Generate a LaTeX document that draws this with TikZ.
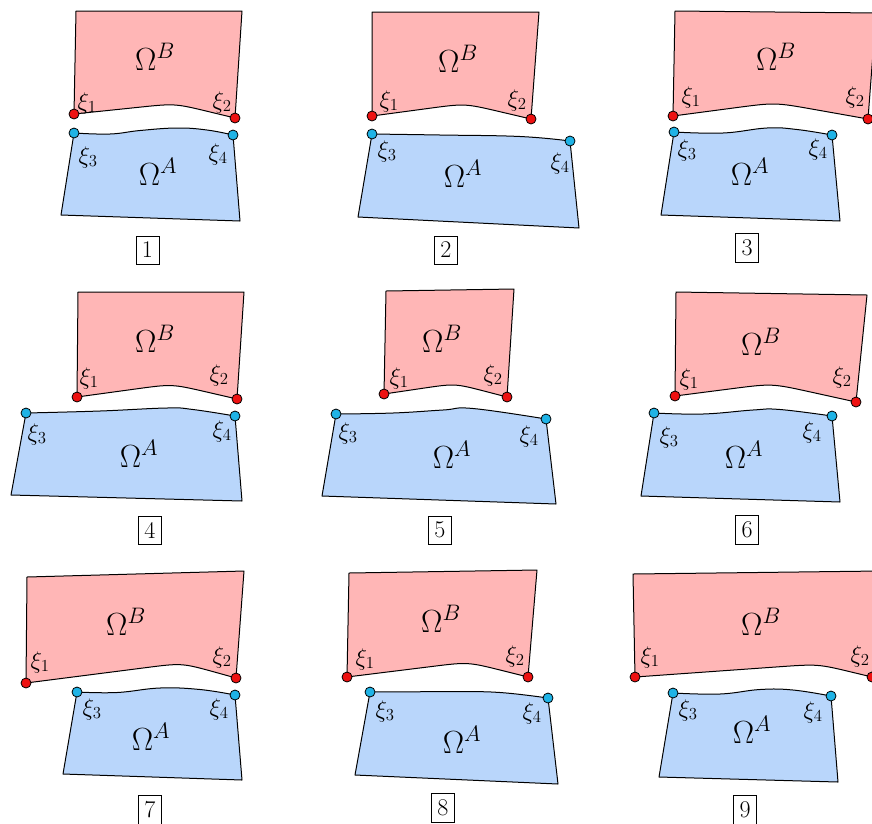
\RequirePackage{fix-cm}
\documentclass[tikz,border=0pt]{standalone}
\usepackage{amsmath}
\usetikzlibrary{positioning,calc}
\definecolor{bodyB}{HTML}{FFB6B6}
\definecolor{bodyA}{HTML}{B9D6FB}
\definecolor{ptRed}{HTML}{EE1111}
\definecolor{ptCyan}{HTML}{1FB3E6}

\begin{document}
\begin{tikzpicture}[x=1pt,y=-1pt,
    partB/.style={draw=black,fill=bodyB,line width=1pt,line join=round},
    partA/.style={draw=black,fill=bodyA,line width=1pt,line join=round},
    dotB/.style={circle,draw=black,fill=ptRed,line width=0.8pt,
                 inner sep=0pt,minimum size=10pt},
    dotA/.style={circle,draw=black,fill=ptCyan,line width=0.8pt,
                 inner sep=0pt,minimum size=10pt},
    omlab/.style={anchor=base,inner sep=0pt,font=\fontsize{32}{36}\selectfont},
    xilab/.style={inner sep=0pt,font=\fontsize{24}{28}\selectfont},
    tag/.style={draw,line width=0.8pt,inner sep=6pt,
                font=\fontsize{24}{28}\selectfont},
    curve/.style={smooth,tension=0.7},
  ]
  \useasboundingbox (0,0) rectangle (872,823);

  % --- panel 1 ---
  \coordinate (xi1) at (74,114);  \coordinate (xi2) at (235,118);
  \coordinate (xi3) at (74,133);  \coordinate (xi4) at (233,135);
  \coordinate (v) at (175,103.5);
  \draw[partB] (76,11) -- (242,11) -- (xi2) -- ($(v)!36pt!(xi2)$)
    .. controls (v) .. ($(v)!36pt!(xi1)$) -- (xi1) -- cycle;
  \draw[partA] plot[curve] coordinates
    {(xi3) (110,134) (140,130.5) (177,128) (207,130) (xi4)} -- (240,221) -- (61,215) -- cycle;
  \node[dotB] (p1a) at (xi1) {};  \node[dotB] (p1b) at (xi2) {};
  \node[dotA] (p1c) at (xi3) {};  \node[dotA] (p1d) at (xi4) {};
  \node[omlab] (om1B) at (155,70) {$\Omega^B$};
  \node[omlab] (om1A) at (158,185) {$\Omega^A$};
  \node[xilab] (l1a) at (87,103) {$\xi_1$};
  \node[xilab] (l1b) at (222,102) {$\xi_2$};
  \node[xilab] (l1c) at (88,157) {$\xi_3$};
  \node[xilab] (l1d) at (218,154) {$\xi_4$};
  \node[tag] (tag1) at (147.5,250) {1};

  % --- panel 2 ---
  \coordinate (xi1) at (372,116); \coordinate (xi2) at (531,119);
  \coordinate (xi3) at (372,134); \coordinate (xi4) at (570,141);
  \coordinate (v) at (465,103.5);
  \draw[partB] (372,12) -- (539,12) -- (xi2) -- ($(v)!36pt!(xi2)$)
    .. controls (v) .. ($(v)!36pt!(xi1)$) -- (xi1) -- cycle;
  \draw[partA] plot[curve] coordinates
    {(xi3) (440,135) (520,136.5) (xi4)} -- (579,228) -- (358,217) -- cycle;
  \node[dotB] (p2a) at (xi1) {};  \node[dotB] (p2b) at (xi2) {};
  \node[dotA] (p2c) at (xi3) {};  \node[dotA] (p2d) at (xi4) {};
  \node[omlab] (om2B) at (458,72) {$\Omega^B$};
  \node[omlab] (om2A) at (463,187) {$\Omega^A$};
  \node[xilab] (l2a) at (389,101) {$\xi_1$};
  \node[xilab] (l2b) at (517,100) {$\xi_2$};
  \node[xilab] (l2c) at (387,151) {$\xi_3$};
  \node[xilab] (l2d) at (560,163) {$\xi_4$};
  \node[tag] (tag2) at (446,250) {2};

  % --- panel 3 ---
  \coordinate (xi1) at (673,116); \coordinate (xi2) at (868,119);
  \coordinate (xi3) at (674,132); \coordinate (xi4) at (832,135);
  \coordinate (v) at (775,102.5);
  \draw[partB] (675,11) -- (876,13) -- (xi2) -- ($(v)!40pt!(xi2)$)
    .. controls (v) .. ($(v)!40pt!(xi1)$) -- (xi1) -- cycle;
  \draw[partA] plot[curve] coordinates
    {(xi3) (723,133) (767,128) (797,129.5) (xi4)} -- (840,221) -- (661,215) -- cycle;
  \node[dotB] (p3a) at (xi1) {};  \node[dotB] (p3b) at (xi2) {};
  \node[dotA] (p3c) at (xi3) {};  \node[dotA] (p3d) at (xi4) {};
  \node[omlab] (om3B) at (776,70) {$\Omega^B$};
  \node[omlab] (om3A) at (750,185) {$\Omega^A$};
  \node[xilab] (l3a) at (691,97) {$\xi_1$};
  \node[xilab] (l3b) at (855,97) {$\xi_2$};
  \node[xilab] (l3c) at (687,150) {$\xi_3$};
  \node[xilab] (l3d) at (818,149) {$\xi_4$};
  \node[tag] (tag3) at (747,248) {3};

  % --- panel 4 ---
  \coordinate (xi1) at (77,397);  \coordinate (xi2) at (237,399);
  \coordinate (xi3) at (26,413);  \coordinate (xi4) at (235,416);
  \coordinate (v) at (172,384);
  \draw[partB] (78,292) -- (244,292) -- (xi2) -- ($(v)!36pt!(xi2)$)
    .. controls (v) .. ($(v)!36pt!(xi1)$) -- (xi1) -- cycle;
  \draw[partA] plot[curve] coordinates
    {(xi3) (100,411) (167,408) (193,409.5) (xi4)} -- (242,501) -- (11,495) -- cycle;
  \node[dotB] (p4a) at (xi1) {};  \node[dotB] (p4b) at (xi2) {};
  \node[dotA] (p4c) at (xi3) {};  \node[dotA] (p4d) at (xi4) {};
  \node[omlab] (om4B) at (155,352) {$\Omega^B$};
  \node[omlab] (om4A) at (139,467) {$\Omega^A$};
  \node[xilab] (l4a) at (89,378) {$\xi_1$};
  \node[xilab] (l4b) at (219,375) {$\xi_2$};
  \node[xilab] (l4c) at (37,434) {$\xi_3$};
  \node[xilab] (l4d) at (222,431) {$\xi_4$};
  \node[tag] (tag4) at (150,530) {4};

  % --- panel 5 ---
  \coordinate (xi1) at (384,394); \coordinate (xi2) at (507,397);
  \coordinate (xi3) at (336,414); \coordinate (xi4) at (546,419);
  \coordinate (v) at (455,383.5);
  \draw[partB] (386,291) -- (514,289) -- (xi2) -- ($(v)!32pt!(xi2)$)
    .. controls (v) .. ($(v)!32pt!(xi1)$) -- (xi1) -- cycle;
  \draw[partA] plot[curve] coordinates
    {(xi3) (393,413) (443,410) (473,408.5) (xi4)} -- (556,504) -- (322,496) -- cycle;
  \node[dotB] (p5a) at (xi1) {};  \node[dotB] (p5b) at (xi2) {};
  \node[dotA] (p5c) at (xi3) {};  \node[dotA] (p5d) at (xi4) {};
  \node[omlab] (om5B) at (442,352) {$\Omega^B$};
  \node[omlab] (om5A) at (452,468) {$\Omega^A$};
  \node[xilab] (l5a) at (399,378) {$\xi_1$};
  \node[xilab] (l5b) at (493,375) {$\xi_2$};
  \node[xilab] (l5c) at (348,433) {$\xi_3$};
  \node[xilab] (l5d) at (529,436) {$\xi_4$};
  \node[tag] (tag5) at (440,530) {5};

  % --- panel 6 ---
  \coordinate (xi1) at (675,396); \coordinate (xi2) at (856,402);
  \coordinate (xi3) at (654,413); \coordinate (xi4) at (832,416);
  \coordinate (v) at (772,383.5);
  \draw[partB] (676,292) -- (867,295) -- (xi2) -- ($(v)!40pt!(xi2)$)
    .. controls (v) .. ($(v)!40pt!(xi1)$) -- (xi1) -- cycle;
  \draw[partA] plot[curve] coordinates
    {(xi3) (703,414) (753,410) (780,409.5) (xi4)} -- (840,502) -- (641,496) -- cycle;
  \node[dotB] (p6a) at (xi1) {};  \node[dotB] (p6b) at (xi2) {};
  \node[dotA] (p6c) at (xi3) {};  \node[dotA] (p6d) at (xi4) {};
  \node[omlab] (om6B) at (761,355) {$\Omega^B$};
  \node[omlab] (om6A) at (744,468) {$\Omega^A$};
  \node[xilab] (l6a) at (689,379) {$\xi_1$};
  \node[xilab] (l6b) at (842,377) {$\xi_2$};
  \node[xilab] (l6c) at (669,437) {$\xi_3$};
  \node[xilab] (l6d) at (812,432) {$\xi_4$};
  \node[tag] (tag6) at (747,530) {6};

  % --- panel 7 ---
  \coordinate (xi1) at (26,683);  \coordinate (xi2) at (236,678);
  \coordinate (xi3) at (77,692);  \coordinate (xi4) at (235,695);
  \coordinate (v) at (182,663);
  \draw[partB] (27,577) -- (244,571) -- (xi2) -- ($(v)!36pt!(xi2)$)
    .. controls (v) .. ($(v)!36pt!(xi1)$) -- (xi1) -- cycle;
  \draw[partA] plot[curve] coordinates
    {(xi3) (117,692.5) (160,688) (200,689.5) (xi4)} -- (242,780) -- (63,774) -- cycle;
  \node[dotB] (p7a) at (xi1) {};  \node[dotB] (p7b) at (xi2) {};
  \node[dotA] (p7c) at (xi3) {};  \node[dotA] (p7d) at (xi4) {};
  \node[omlab] (om7B) at (126,635) {$\Omega^B$};
  \node[omlab] (om7A) at (151,750) {$\Omega^A$};
  \node[xilab] (l7a) at (40,662) {$\xi_1$};
  \node[xilab] (l7b) at (222,657) {$\xi_2$};
  \node[xilab] (l7c) at (92,709) {$\xi_3$};
  \node[xilab] (l7d) at (219,709) {$\xi_4$};
  \node[tag] (tag7) at (150,810) {7};

  % --- panel 8 ---
  \coordinate (xi1) at (347,677); \coordinate (xi2) at (528,677);
  \coordinate (xi3) at (370,692); \coordinate (xi4) at (548,698);
  \coordinate (v) at (468,662);
  \draw[partB] (349,573) -- (537,570) -- (xi2) -- ($(v)!36pt!(xi2)$)
    .. controls (v) .. ($(v)!36pt!(xi1)$) -- (xi1) -- cycle;
  \draw[partA] plot[curve] coordinates
    {(xi3) (453,691.7) (500,692.5) (xi4)} -- (558,784) -- (355,775) -- cycle;
  \node[dotB] (p8a) at (xi1) {};  \node[dotB] (p8b) at (xi2) {};
  \node[dotA] (p8c) at (xi3) {};  \node[dotA] (p8d) at (xi4) {};
  \node[omlab] (om8B) at (441,632) {$\Omega^B$};
  \node[omlab] (om8A) at (462,753) {$\Omega^A$};
  \node[xilab] (l8a) at (365,659) {$\xi_1$};
  \node[xilab] (l8b) at (515,656) {$\xi_2$};
  \node[xilab] (l8c) at (385,711) {$\xi_3$};
  \node[xilab] (l8d) at (532,713) {$\xi_4$};
  \node[tag] (tag8) at (443,808) {8};

  % --- panel 9 ---
  \coordinate (xi1) at (635,677); \coordinate (xi2) at (872,677);
  \coordinate (xi3) at (673,693); \coordinate (xi4) at (831,696);
  \coordinate (v) at (818,664);
  \draw[partB] (633,574) -- (880,571) -- (xi2) -- ($(v)!36pt!(xi2)$)
    .. controls (v) .. ($(v)!40pt!(xi1)$) -- (xi1) -- cycle;
  \draw[partA] plot[curve] coordinates
    {(xi3) (720,694) (760,689.5) (793,690) (xi4)} -- (838,782) -- (659,777) -- cycle;
  \node[dotB] (p9a) at (xi1) {};  \node[dotB] (p9b) at (xi2) {};
  \node[dotA] (p9c) at (xi3) {};  \node[dotA] (p9d) at (xi4) {};
  \node[omlab] (om9B) at (761,635) {$\Omega^B$};
  \node[omlab] (om9A) at (752,743) {$\Omega^A$};
  \node[xilab] (l9a) at (650,657) {$\xi_1$};
  \node[xilab] (l9b) at (860,656) {$\xi_2$};
  \node[xilab] (l9c) at (688,710) {$\xi_3$};
  \node[xilab] (l9d) at (813,712) {$\xi_4$};
  \node[tag] (tag9) at (745,810) {9};

\end{tikzpicture}
\end{document}
